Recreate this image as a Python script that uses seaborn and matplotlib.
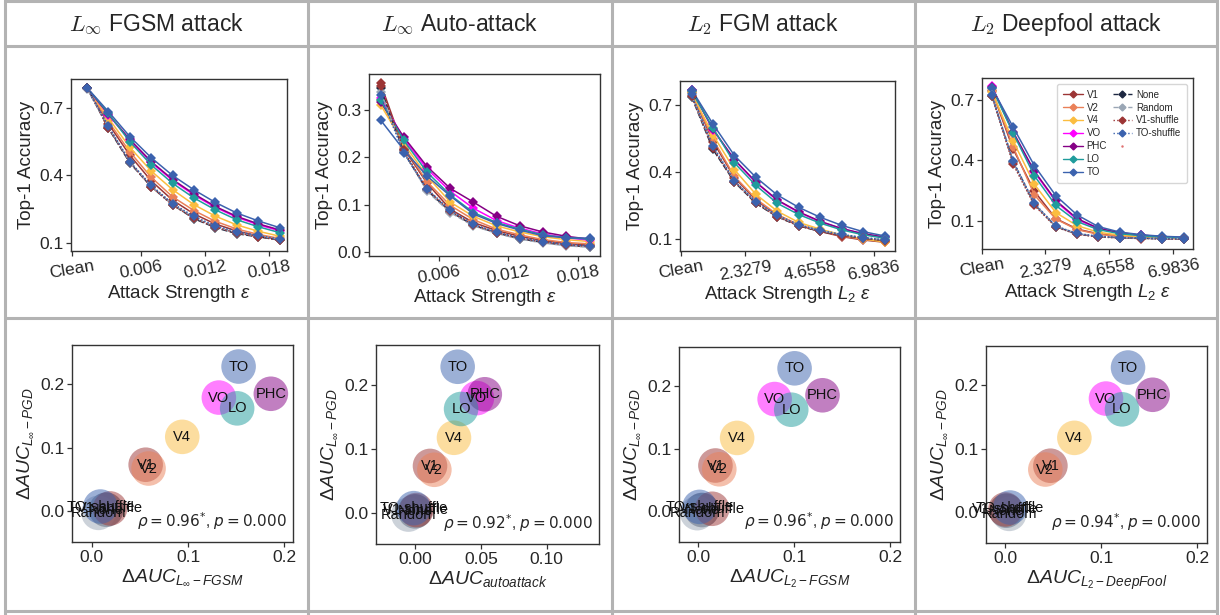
import matplotlib
matplotlib.use("Agg")
import matplotlib.pyplot as plt
from matplotlib.lines import Line2D
import pandas as pd
import seaborn as sns

sns.set_theme(style="ticks")
plt.rcParams['font.family'] = ['Liberation Sans', 'DejaVu Sans']
plt.rcParams['mathtext.fontset'] = 'custom'
plt.rcParams['mathtext.rm'] = 'Liberation Sans'
plt.rcParams['mathtext.it'] = 'Liberation Sans:italic'
plt.rcParams['mathtext.bf'] = 'Liberation Sans:bold'

# ---- data ----
models = ['V1', 'V2', 'V4', 'VO', 'PHC', 'LO', 'TO', 'None', 'Random', 'V1-shuffle', 'TO-shuffle']
colors = ['#9c3535', '#ea8058', '#fbbd40', '#ff00ff', '#850085', '#1f9c9c', '#3b62ae',
          '#1d2741', '#9aa6b5', '#9c3535', '#3b62ae']
line_styles = ['-', '-', '-', '-', '-', '-', '-', '--', '--', ':', ':']

eps_linf = [0.001, 0.003, 0.005, 0.007, 0.009, 0.011, 0.013, 0.015, 0.017, 0.019]
eps_l2 = [0.388, 1.164, 1.940, 2.716, 3.492, 4.268, 5.044, 5.820, 6.596, 7.372]

acc_fgsm = {
    'V1': [0.79, 0.630, 0.490, 0.376, 0.290, 0.229, 0.184, 0.153, 0.131, 0.115],
    'V2': [0.79, 0.640, 0.505, 0.392, 0.305, 0.244, 0.196, 0.162, 0.138, 0.120],
    'V4': [0.79, 0.655, 0.525, 0.420, 0.337, 0.270, 0.219, 0.180, 0.152, 0.130],
    'VO': [0.79, 0.670, 0.556, 0.458, 0.378, 0.313, 0.258, 0.214, 0.181, 0.154],
    'PHC': [0.79, 0.672, 0.560, 0.462, 0.382, 0.318, 0.262, 0.218, 0.185, 0.158],
    'LO': [0.79, 0.676, 0.550, 0.447, 0.365, 0.300, 0.247, 0.203, 0.172, 0.146],
    'TO': [0.79, 0.684, 0.573, 0.479, 0.400, 0.336, 0.280, 0.233, 0.198, 0.168],
    'None': [0.79, 0.610, 0.456, 0.350, 0.270, 0.208, 0.168, 0.141, 0.127, 0.113],
    'Random': [0.785, 0.615, 0.460, 0.352, 0.272, 0.212, 0.172, 0.145, 0.130, 0.115],
    'V1-shuffle': [0.79, 0.612, 0.458, 0.350, 0.268, 0.210, 0.170, 0.144, 0.128, 0.112],
    'TO-shuffle': [0.79, 0.620, 0.462, 0.356, 0.275, 0.218, 0.176, 0.150, 0.133, 0.117],
}

acc_auto = {
    'V1': [0.355, 0.218, 0.145, 0.090, 0.062, 0.045, 0.033, 0.024, 0.018, 0.014],
    'V2': [0.320, 0.222, 0.148, 0.098, 0.068, 0.048, 0.036, 0.026, 0.020, 0.017],
    'V4': [0.310, 0.228, 0.160, 0.105, 0.075, 0.055, 0.042, 0.032, 0.026, 0.022],
    'VO': [0.325, 0.238, 0.175, 0.128, 0.092, 0.066, 0.050, 0.038, 0.030, 0.025],
    'PHC': [0.316, 0.242, 0.180, 0.134, 0.105, 0.075, 0.055, 0.042, 0.033, 0.027],
    'LO': [0.320, 0.235, 0.168, 0.120, 0.083, 0.062, 0.048, 0.036, 0.030, 0.027],
    'TO': [0.278, 0.215, 0.160, 0.118, 0.080, 0.060, 0.046, 0.034, 0.030, 0.029],
    'None': [0.345, 0.210, 0.130, 0.085, 0.056, 0.040, 0.028, 0.020, 0.014, 0.011],
    'Random': [0.338, 0.212, 0.128, 0.083, 0.055, 0.039, 0.027, 0.019, 0.013, 0.010],
    'V1-shuffle': [0.350, 0.214, 0.132, 0.086, 0.057, 0.041, 0.029, 0.021, 0.015, 0.012],
    'TO-shuffle': [0.330, 0.208, 0.133, 0.088, 0.058, 0.042, 0.030, 0.022, 0.016, 0.013],
}

acc_fgm = {
    'V1': [0.755, 0.535, 0.375, 0.275, 0.205, 0.162, 0.135, 0.112, 0.097, 0.087],
    'V2': [0.755, 0.545, 0.380, 0.280, 0.210, 0.165, 0.138, 0.115, 0.100, 0.090],
    'V4': [0.750, 0.565, 0.410, 0.300, 0.225, 0.175, 0.145, 0.120, 0.102, 0.088],
    'VO': [0.767, 0.588, 0.453, 0.353, 0.273, 0.220, 0.178, 0.147, 0.124, 0.109],
    'PHC': [0.765, 0.590, 0.455, 0.355, 0.275, 0.222, 0.180, 0.148, 0.125, 0.110],
    'LO': [0.760, 0.595, 0.440, 0.340, 0.260, 0.210, 0.172, 0.142, 0.120, 0.105],
    'TO': [0.767, 0.613, 0.473, 0.376, 0.297, 0.242, 0.198, 0.162, 0.134, 0.115],
    'None': [0.735, 0.500, 0.355, 0.260, 0.200, 0.160, 0.135, 0.118, 0.105, 0.095],
    'Random': [0.740, 0.510, 0.360, 0.265, 0.203, 0.163, 0.138, 0.120, 0.107, 0.097],
    'V1-shuffle': [0.740, 0.505, 0.357, 0.262, 0.200, 0.160, 0.135, 0.117, 0.104, 0.094],
    'TO-shuffle': [0.745, 0.515, 0.360, 0.268, 0.207, 0.165, 0.140, 0.122, 0.108, 0.098],
}

acc_deepfool = {
    'V1': [0.745, 0.455, 0.245, 0.110, 0.058, 0.034, 0.023, 0.017, 0.013, 0.011],
    'V2': [0.750, 0.466, 0.227, 0.108, 0.055, 0.032, 0.022, 0.016, 0.012, 0.010],
    'V4': [0.740, 0.495, 0.280, 0.140, 0.075, 0.042, 0.028, 0.020, 0.015, 0.012],
    'VO': [0.770, 0.535, 0.340, 0.195, 0.105, 0.060, 0.038, 0.027, 0.020, 0.015],
    'PHC': [0.765, 0.540, 0.345, 0.200, 0.110, 0.062, 0.040, 0.028, 0.020, 0.016],
    'LO': [0.760, 0.534, 0.322, 0.175, 0.095, 0.055, 0.035, 0.025, 0.018, 0.014],
    'TO': [0.760, 0.564, 0.372, 0.224, 0.128, 0.070, 0.043, 0.030, 0.022, 0.018],
    'None': [0.720, 0.393, 0.181, 0.070, 0.033, 0.020, 0.015, 0.012, 0.010, 0.009],
    'Random': [0.725, 0.390, 0.182, 0.072, 0.035, 0.022, 0.016, 0.013, 0.011, 0.010],
    'V1-shuffle': [0.720, 0.380, 0.175, 0.068, 0.032, 0.019, 0.014, 0.011, 0.009, 0.008],
    'TO-shuffle': [0.725, 0.395, 0.185, 0.073, 0.036, 0.022, 0.016, 0.013, 0.011, 0.010],
}

# delta AUC, shared y (L_inf PGD) and x per attack
dauc_pgd = [0.073, 0.067, 0.117, 0.179, 0.185, 0.162, 0.228, 0.002, -0.003, 0.004, 0.007]
dauc_fgsm = [0.056, 0.059, 0.094, 0.132, 0.186, 0.151, 0.1525, 0.015, 0.007, 0.019, 0.009]
dauc_auto = [0.0114, 0.0147, 0.0296, 0.047, 0.053, 0.035, 0.0324, 0.000, -0.005, 0.001, -0.001]
dauc_l2fgsm = [0.018, 0.022, 0.0406, 0.0797, 0.1296, 0.097, 0.1005, 0.004, -0.001, 0.0146, 0.0014]
dauc_deepfool = [0.047, 0.0417, 0.072, 0.105, 0.1537, 0.1217, 0.128, 0.001, 0.004, 0.000, 0.005]
rho_texts = [r'$\rho = 0.96^{*}$, $p = 0.000$', r'$\rho = 0.92^{*}$, $p = 0.000$',
             r'$\rho = 0.96^{*}$, $p = 0.000$', r'$\rho = 0.94^{*}$, $p = 0.000$']

titles = [r'$L_\infty$ FGSM attack', r'$L_\infty$ Auto-attack', r'$L_2$ FGM attack', r'$L_2$ Deepfool attack']

palette = dict(zip(models, colors))
dash_map = {'-': '', '--': (4, 1.5), ':': (1, 1.2)}
dashes = {m: dash_map[s] for m, s in zip(models, line_styles)}
marker_map = {m: 'D' for m in models}

W, H = 1220, 615
fig = plt.figure(figsize=(W / 100, H / 100), dpi=100)


def add_ax(l, t, r, b):
    return fig.add_axes([l / W, 1 - b / H, (r - l) / W, (b - t) / H])


def long_df(eps, acc):
    rows = []
    for m in models:
        for x, y in zip(eps, acc[m]):
            rows.append((m, x, y))
    return pd.DataFrame(rows, columns=['model', 'eps', 'acc'])


def style_ax(ax):
    for s in ax.spines.values():
        s.set_visible(True)
        s.set_color('#333333')
        s.set_linewidth(1.0)
    ax.tick_params(axis='both', labelsize=12.5, length=3.5, width=0.9, color='#333333', pad=2)


# grid lines of the figure
grid_c = '#b3b3b3'
for x in [5, 308, 612, 915, 1217]:
    fig.add_artist(Line2D([x / W, x / W], [0, 1], transform=fig.transFigure, color=grid_c, lw=2.2))
for y in [1, 46, 318, 611]:
    fig.add_artist(Line2D([5 / W, 1217 / W], [1 - y / H, 1 - y / H], transform=fig.transFigure, color=grid_c, lw=2.2))

for cx, t in zip([156, 460, 763, 1066], titles):
    fig.text(cx / W, 1 - 24 / H, t, ha='center', va='center', fontsize=16.5, math_fontfamily='cm')

# ---- top row: accuracy curves ----
line_boxes = [(71, 79, 287, 251), (369, 74, 600, 256), (680, 81, 895, 251), (982, 78, 1193, 249)]
line_sets = [(eps_linf, acc_fgsm), (eps_linf, acc_auto), (eps_l2, acc_fgm), (eps_l2, acc_deepfool)]
ylims = [(0.064, 0.829), (-0.0085, 0.375), (0.048, 0.805), (-0.041, 0.808)]
yticks = [[0.1, 0.4, 0.7], [0.0, 0.1, 0.2, 0.3], [0.1, 0.4, 0.7], [0.1, 0.4, 0.7]]
xlims = [(-0.0005, 0.0197), (0.0, 0.0199), (-0.03, 7.745), (0.03, 7.71)]
xticks = [[-0.0004, 0.006, 0.012, 0.018], [0.006, 0.012, 0.018],
          [0.0, 2.3279, 4.6558, 6.9836], [0.03, 2.3279, 4.6558, 6.9836]]
xticklabels = [['Clean', '0.006', '0.012', '0.018'], ['0.006', '0.012', '0.018'],
               ['Clean', '2.3279', '4.6558', '6.9836'], ['Clean', '2.3279', '4.6558', '6.9836']]
xlabels = [r'Attack Strength $\varepsilon$', r'Attack Strength $\varepsilon$',
           r'Attack Strength $L_2$ $\varepsilon$', r'Attack Strength $L_2$ $\varepsilon$']

for i in range(4):
    ax = add_ax(*line_boxes[i])
    df = long_df(*line_sets[i])
    sns.lineplot(data=df, x='eps', y='acc', hue='model', style='model', hue_order=models,
                 style_order=models, palette=palette, dashes=dashes, markers=marker_map,
                 markersize=5.5, markeredgewidth=0, linewidth=1.1, legend=False, ax=ax)
    ax.set_xlim(*xlims[i])
    ax.set_ylim(*ylims[i])
    ax.set_yticks(yticks[i])
    ax.set_xticks(xticks[i])
    ax.set_xticklabels(xticklabels[i], rotation=10)
    ax.set_xlabel(xlabels[i], fontsize=13.5, labelpad=1)
    ax.set_ylabel('Top-1 Accuracy', fontsize=13.5, labelpad=3)
    style_ax(ax)
    if i == 3:
        handles = [Line2D([], [], color=c, ls=s, marker='D', ms=3.5, lw=1)
                   for c, s in zip(colors, line_styles)]
        handles.append(Line2D([], [], color='#e07070', ls='none', marker='.', ms=1.5))
        handles.append(Line2D([], [], color='none', ls='none'))
        labels = models + ['', '']
        ax.legend(handles, labels, loc='upper right', ncol=2, fontsize=7, handlelength=2.0,
                  handletextpad=0.4, columnspacing=0.6, labelspacing=0.3, borderpad=0.6,
                  borderaxespad=0.6, frameon=True, edgecolor='#cccccc', fancybox=True)

# ---- bottom row: delta AUC scatter ----
scatter_boxes = [(72, 345, 293, 542), (376, 345, 599, 544), (679, 347, 900, 542), (986, 346, 1207, 543)]
scatter_x = [dauc_fgsm, dauc_auto, dauc_l2fgsm, dauc_deepfool]
sx_lims = [(-0.0205, 0.209), (-0.0296, 0.1397), (-0.020, 0.2104), (-0.0202, 0.2104)]
sx_ticks = [[0.0, 0.1, 0.2], [0.0, 0.05, 0.10], [0.0, 0.1, 0.2], [0.0, 0.1, 0.2]]
sx_ticklabels = [['0.0', '0.1', '0.2'], ['0.00', '0.05', '0.10'], ['0.0', '0.1', '0.2'], ['0.0', '0.1', '0.2']]
sx_labels = [r'$\Delta AUC_{L_\infty-FGSM}$', r'$\Delta AUC_{autoattack}$',
             r'$\Delta AUC_{L_2-FGSM}$', r'$\Delta AUC_{L_2-DeepFool}$']

for i in range(4):
    ax = add_ax(*scatter_boxes[i])
    sdf = pd.DataFrame({'model': models, 'x': scatter_x[i], 'y': dauc_pgd})
    sns.scatterplot(data=sdf, x='x', y='y', hue='model', hue_order=models, palette=palette,
                    s=620, alpha=0.5, linewidth=0, legend=False, ax=ax)
    for m, x, y in zip(models, scatter_x[i], dauc_pgd):
        ax.text(x, y, m, ha='center', va='center', fontsize=10.5, color='#111111')
    ax.text(0.97, 0.05, rho_texts[i], transform=ax.transAxes, ha='right', va='bottom',
            fontsize=11, math_fontfamily='dejavusans')
    ax.set_xlim(*sx_lims[i])
    ax.set_ylim(-0.049, 0.262)
    ax.set_yticks([0.0, 0.1, 0.2])
    ax.set_xticks(sx_ticks[i])
    ax.set_xticklabels(sx_ticklabels[i])
    ax.set_xlabel(sx_labels[i], fontsize=14, labelpad=2)
    ax.set_ylabel(r'$\Delta AUC_{L_\infty-PGD}$', fontsize=14, labelpad=3)
    style_ax(ax)

fig.savefig('out.png', dpi=100)
